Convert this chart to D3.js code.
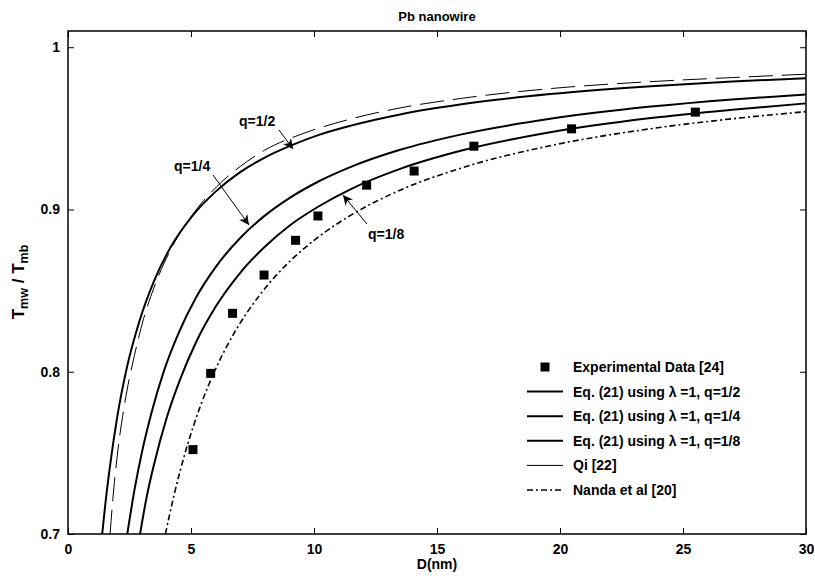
<!DOCTYPE html>
<html><head><meta charset="utf-8">
<script src="https://cdn.jsdelivr.net/npm/d3@7/dist/d3.min.js"></script>
<style>body{margin:0;background:#fff}text{font-family:"Liberation Sans",Arial,Helvetica,sans-serif;font-weight:bold;fill:#000}</style>
</head><body><svg id="c" width="815" height="578"></svg>
<script>
const xTicks = [0, 5, 10, 15, 20, 25, 30];
const yTicks = [0.7, 0.8, 0.9, 1];
const yTickLabels = ["0.7", "0.8", "0.9", "1"];

const expD = [5.08, 5.8, 6.69, 7.97, 9.25, 10.16, 12.14, 14.07, 16.5, 20.47, 25.5];
const expT = [0.752, 0.799, 0.836, 0.8596, 0.881, 0.896, 0.915, 0.9237, 0.939, 0.9497, 0.960];

const q2D = [1.39, 1.5, 1.7, 2.0, 2.4, 2.9, 3.5, 4.2, 5.0, 6.0, 7.0, 8.0, 9.0, 10.2, 11.5, 13.5, 16, 19.6, 23.7, 27, 30];
const q2T = [0.700, 0.716, 0.741, 0.772, 0.803, 0.831, 0.856, 0.8775, 0.895, 0.911, 0.923, 0.932, 0.939, 0.946, 0.9517, 0.9586, 0.9648, 0.9711, 0.976, 0.9789, 0.9809];

const q4D = [2.41, 2.7, 3.0, 3.4, 3.9, 4.5, 5.2, 6.0, 7.0, 8.0, 9.0, 10.2, 11.5, 13.5, 16, 19.6, 23.7, 27, 30];
const q4T = [0.700, 0.727, 0.750, 0.775, 0.8005, 0.824, 0.8456, 0.8645, 0.8824, 0.8962, 0.907, 0.9174, 0.9263, 0.9368, 0.9463, 0.9559, 0.9634, 0.9678, 0.9709];

const q8D = [2.93, 3.2, 3.5, 4.0, 4.55, 5.2, 6.0, 7.0, 8.0, 9.0, 10.2, 11.5, 13.5, 16, 19.6, 23.7, 27, 30];
const q8T = [0.700, 0.723, 0.743, 0.771, 0.795, 0.818, 0.840, 0.861, 0.877, 0.890, 0.902, 0.9126, 0.925, 0.9363, 0.9476, 0.9564, 0.9615, 0.9654];

const qiD = [1.71, 1.82, 2.0, 2.3, 2.7, 3.06, 3.5, 4.2, 5.0, 6.04, 7.0, 8.0, 9.5, 11.3, 13.5, 16, 19.6, 23.7, 27, 30];
const qiT = [0.700, 0.721, 0.748, 0.780, 0.810, 0.832, 0.852, 0.876, 0.8955, 0.914, 0.9265, 0.9366, 0.9465, 0.955, 0.9626, 0.9685, 0.9745, 0.9788, 0.9813, 0.9834];

const naD = [3.96, 4.3, 4.8, 5.4, 6.0, 6.8, 7.8, 9.0, 10.2, 11.5, 13.5, 16, 19.6, 23.7, 27, 30];
const naT = [0.700, 0.7233, 0.752, 0.7796, 0.8017, 0.825, 0.8474, 0.8678, 0.8833, 0.8965, 0.9119, 0.9256, 0.9393, 0.9498, 0.9559, 0.9603];

const legendLabels = ["Experimental Data [24]", "Eq. (21) using \u03bb =1, q=1/2", "Eq. (21) using \u03bb =1, q=1/4", "Eq. (21) using \u03bb =1, q=1/8", "Qi [22]", "Nanda et al [20]"];

const svg = d3.select("#c");
const L = 68, R = 806, T = 31, B = 534;
const x = d3.scaleLinear().domain([0, 30]).range([L, R]);
const y = d3.scaleLinear().domain([0.7, 1.01]).range([B, T]);

svg.append("defs").append("clipPath").attr("id", "clip")
  .append("rect").attr("x", L).attr("y", T).attr("width", R - L).attr("height", B - T);

const line = d3.line().x(d => x(d[0])).y(d => y(d[1])).curve(d3.curveMonotoneX);
const zip = (a, b) => a.map((v, i) => [v, b[i]]);

const series = [
  {d: q2D, t: q2T, w: 2, dash: null},
  {d: q4D, t: q4T, w: 2, dash: null},
  {d: q8D, t: q8T, w: 2, dash: null},
  {d: qiD, t: qiT, w: 1, dash: "24,9"},
  {d: naD, t: naT, w: 1.6, dash: "6,3,2,3"}
];
const g = svg.append("g").attr("clip-path", "url(#clip)");
series.forEach(s => {
  g.append("path").datum(zip(s.d, s.t)).attr("d", line)
    .attr("fill", "none").attr("stroke", "#000").attr("stroke-width", s.w)
    .attr("stroke-dasharray", s.dash);
});
g.selectAll("rect.pt").data(zip(expD, expT)).enter().append("rect")
  .attr("x", d => x(d[0]) - 4.5).attr("y", d => y(d[1]) - 4.5)
  .attr("width", 9).attr("height", 9).attr("fill", "#000");

// frame and ticks
svg.append("rect").attr("x", L).attr("y", T).attr("width", R - L).attr("height", B - T)
  .attr("fill", "none").attr("stroke", "#000").attr("stroke-width", 1.5);

const xb = svg.append("g").attr("transform", `translate(0,${B})`)
  .call(d3.axisBottom(x).tickValues(xTicks).tickSize(-6).tickPadding(10).tickFormat(d3.format("d")));
const xt = svg.append("g").attr("transform", `translate(0,${T})`)
  .call(d3.axisTop(x).tickValues(xTicks).tickSize(-6).tickFormat(""));
const yl = svg.append("g").attr("transform", `translate(${L},0)`)
  .call(d3.axisLeft(y).tickValues(yTicks).tickSize(-6).tickPadding(8).tickFormat((d, i) => yTickLabels[i]));
const yr = svg.append("g").attr("transform", `translate(${R},0)`)
  .call(d3.axisRight(y).tickValues(yTicks).tickSize(-6).tickFormat(""));
[xb, xt, yl, yr].forEach(a => {
  a.select(".domain").remove();
  a.selectAll("line").attr("stroke", "#000").attr("stroke-width", 1);
  a.selectAll("text").attr("font-size", 14).attr("font-weight", "bold")
    .attr("font-family", "'Liberation Sans',Arial,sans-serif").attr("fill", "#000");
});

// title and labels
svg.append("text").attr("x", (L + R) / 2).attr("y", 21).attr("text-anchor", "middle")
  .attr("font-size", 13).text("Pb nanowire");
svg.append("text").attr("x", (L + R) / 2).attr("y", 569).attr("text-anchor", "middle")
  .attr("font-size", 14).text("D(nm)");
const yt = svg.append("text").attr("transform", "translate(24,282) rotate(-90)")
  .attr("text-anchor", "middle").attr("font-size", 17);
yt.append("tspan").text("T");
yt.append("tspan").attr("font-size", 12.5).attr("dy", 4).text("mw");
yt.append("tspan").attr("dy", -4).text(" / T");
yt.append("tspan").attr("font-size", 12.5).attr("dy", 4).text("mb");

// annotations
const ann = [
  {txt: "q=1/2", tx: 239, ty: 126, x1: 279, y1: 130, x2: 293, y2: 149},
  {txt: "q=1/4", tx: 174, ty: 171, x1: 213, y1: 175, x2: 249, y2: 225},
  {txt: "q=1/8", tx: 368, ty: 239, x1: 367, y1: 224, x2: 343, y2: 195}
];
svg.append("defs").append("marker").attr("id", "ah").attr("viewBox", "0 0 10 10")
  .attr("refX", 10).attr("refY", 5).attr("markerWidth", 10).attr("markerHeight", 10)
  .attr("markerUnits", "userSpaceOnUse").attr("orient", "auto")
  .append("path").attr("d", "M0,0 L10,5 L0,10 L3,5 Z").attr("fill", "#000");
ann.forEach(a => {
  svg.append("text").attr("x", a.tx).attr("y", a.ty).attr("font-size", 14).text(a.txt);
  svg.append("line").attr("x1", a.x1).attr("y1", a.y1).attr("x2", a.x2).attr("y2", a.y2)
    .attr("stroke", "#000").attr("stroke-width", 1).attr("marker-end", "url(#ah)");
});

// legend
const lg = svg.append("g");
const ly0 = 367, ldy = 24.6;
legendLabels.forEach((lab, i) => {
  const yy = ly0 + i * ldy;
  if (i === 0) {
    lg.append("rect").attr("x", 545 - 4.5).attr("y", yy - 4.5).attr("width", 9).attr("height", 9).attr("fill", "#000");
  } else {
    lg.append("line").attr("x1", 527).attr("x2", 563).attr("y1", yy).attr("y2", yy)
      .attr("stroke", "#000").attr("stroke-width", i === 4 ? 1 : (i === 5 ? 1.6 : 2))
      .attr("stroke-dasharray", i === 5 ? "6,3,2,3" : null);
  }
  lg.append("text").attr("x", 573).attr("y", yy + 5).attr("font-size", 14).text(lab);
});
</script></body></html>
